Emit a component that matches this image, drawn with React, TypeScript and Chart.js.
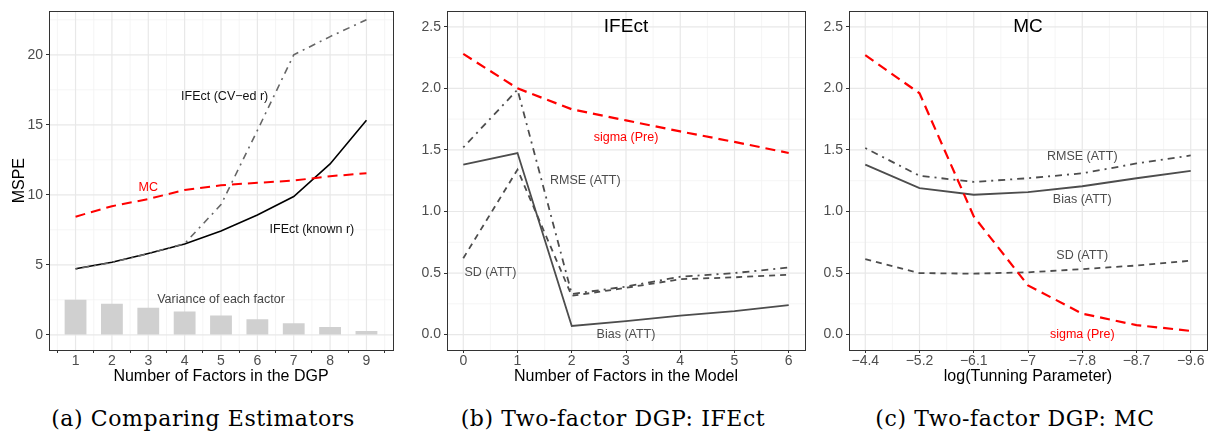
import React, { useEffect, useRef } from "react";
import { Chart, registerables } from "chart.js";
Chart.register(...registerables);

// ---------- Panel (a): Comparing Estimators ----------
const dgpFactors = [1, 2, 3, 4, 5, 6, 7, 8, 9];
const mspeKnownR = [4.72, 5.19, 5.81, 6.49, 7.42, 8.56, 9.88, 12.21, 15.33];
const mspeCvR = [4.7, 5.17, 5.8, 6.52, 9.3, 14.6, 20.0, 21.3, 22.5];
const mspeMC = [8.44, 9.19, 9.7, 10.35, 10.68, 10.86, 11.02, 11.33, 11.54];
const factorVariance = [2.5, 2.22, 1.94, 1.67, 1.39, 1.11, 0.83, 0.56, 0.28];
const aYTicks = [0, 5, 10, 15, 20];

// ---------- Panel (b): IFEct ----------
const modelFactors = [0, 1, 2, 3, 4, 5, 6];
const ifeSigmaPre = [2.28, 2.0, 1.83, 1.74, 1.65, 1.565, 1.475];
const ifeRmse = [1.52, 1.99, 0.33, 0.39, 0.47, 0.5, 0.545];
const ifeBias = [1.38, 1.475, 0.07, 0.11, 0.155, 0.19, 0.24];
const ifeSd = [0.62, 1.34, 0.315, 0.38, 0.45, 0.465, 0.487];
const bcYTicks = [0, 0.5, 1.0, 1.5, 2.0, 2.5];

// ---------- Panel (c): MC ----------
const lambdaIndex = [0, 1, 2, 3, 4, 5, 6];
const lambdaLabels = ["\u22124.4", "\u22125.2", "\u22126.1", "\u22127", "\u22127.8", "\u22128.7", "\u22129.6"];
const mcSigmaPre = [2.27, 1.96, 0.96, 0.4, 0.17, 0.077, 0.03];
const mcRmse = [1.515, 1.29, 1.24, 1.27, 1.31, 1.39, 1.455];
const mcBias = [1.38, 1.19, 1.136, 1.157, 1.205, 1.27, 1.33];
const mcSd = [0.614, 0.5, 0.495, 0.506, 0.532, 0.561, 0.6];

const captions = [
  "(a) Comparing Estimators",
  "(b) Two-factor DGP: IFEct",
  "(c) Two-factor DGP: MC",
];

const SANS = "'Liberation Sans', Arial, Helvetica, sans-serif";
const RED = "#ff0000";
const DARK = "#4d4d4d";

type Label = { text: string; x: number; y: number; color: string; size: number };

function minorBetween(major: number[], min: number, max: number): number[] {
  const out: number[] = [];
  const step = major[1] - major[0];
  const first = major[0] - step / 2;
  if (first >= min) out.push(first);
  for (let i = 0; i < major.length - 1; i++) out.push((major[i] + major[i + 1]) / 2);
  const last = major[major.length - 1] + step / 2;
  if (last <= max) out.push(last);
  return out;
}

function makeDecor(cfg: {
  xMajor: number[];
  yMajor: number[];
  xMin: number;
  xMax: number;
  yMin: number;
  yMax: number;
  labels: Label[];
}) {
  const xMinor = minorBetween(cfg.xMajor, cfg.xMin, cfg.xMax);
  const yMinor = minorBetween(cfg.yMajor, cfg.yMin, cfg.yMax);
  return {
    id: "decor",
    beforeDatasetsDraw(chart: any) {
      const { ctx, chartArea: a, scales } = chart;
      ctx.save();
      const vline = (v: number, color: string, w: number) => {
        const p = scales.x.getPixelForValue(v);
        ctx.strokeStyle = color;
        ctx.lineWidth = w;
        ctx.beginPath();
        ctx.moveTo(p, a.top);
        ctx.lineTo(p, a.bottom);
        ctx.stroke();
      };
      const hline = (v: number, color: string, w: number) => {
        const p = scales.y.getPixelForValue(v);
        ctx.strokeStyle = color;
        ctx.lineWidth = w;
        ctx.beginPath();
        ctx.moveTo(a.left, p);
        ctx.lineTo(a.right, p);
        ctx.stroke();
      };
      xMinor.forEach((v) => vline(v, "#f2f2f2", 0.8));
      yMinor.forEach((v) => hline(v, "#f2f2f2", 0.8));
      cfg.xMajor.forEach((v) => vline(v, "#e8e8e8", 1.2));
      cfg.yMajor.forEach((v) => hline(v, "#e8e8e8", 1.2));
      ctx.restore();
    },
    afterDatasetsDraw(chart: any) {
      const { ctx, chartArea: a, scales } = chart;
      ctx.save();
      ctx.textAlign = "center";
      ctx.textBaseline = "middle";
      cfg.labels.forEach((l) => {
        ctx.fillStyle = l.color;
        ctx.font = `${l.size}px ${SANS}`;
        ctx.fillText(l.text, scales.x.getPixelForValue(l.x), scales.y.getPixelForValue(l.y));
      });
      ctx.strokeStyle = "#333333";
      ctx.lineWidth = 1;
      ctx.strokeRect(Math.round(a.left) + 0.5, Math.round(a.top) + 0.5, Math.round(a.right - a.left), Math.round(a.bottom - a.top));
      ctx.restore();
    },
  };
}

function pts(xs: number[], ys: number[]) {
  return xs.map((x, i) => ({ x, y: ys[i] }));
}

function lineDs(label: string, xs: number[], ys: number[], color: string, width: number, dash: number[]) {
  return {
    type: "line" as const,
    label,
    data: pts(xs, ys),
    borderColor: color,
    borderWidth: width,
    borderDash: dash,
    pointRadius: 0,
    tension: 0,
    fill: false,
    order: 0,
    borderCapStyle: "butt" as const,
  };
}

const LONGDASH = [10, 6];
const DASHED = [6, 5];
const DOTDASH = [2, 5, 7, 5];

type PanelSpec = {
  left: number;
  width: number;
  height: number;
  plotLeft: number;
  plotRight: number;
  plotTop: number;
  plotBottom: number;
  datasets: any[];
  xMin: number;
  xMax: number;
  yMin: number;
  yMax: number;
  xTicks: number[];
  yTicks: number[];
  xFmt: (v: number) => string;
  yFmt: (v: number) => string;
  xTitle: string;
  yTitle?: string;
  labels: Label[];
};

function Panel({ spec }: { spec: PanelSpec }) {
  const ref = useRef<HTMLCanvasElement | null>(null);
  useEffect(() => {
    if (!ref.current) return;
    const s = spec;
    const yWidth = s.plotLeft - s.left;
    const xHeight = s.height - s.plotBottom;
    const padRight = s.left + s.width - s.plotRight;
    const tickFont = { family: SANS, size: 14 };
    const chart = new Chart(ref.current, {
      type: "line",
      data: { datasets: s.datasets },
      plugins: [
        makeDecor({
          xMajor: s.xTicks,
          yMajor: s.yTicks,
          xMin: s.xMin,
          xMax: s.xMax,
          yMin: s.yMin,
          yMax: s.yMax,
          labels: s.labels,
        }) as any,
      ],
      options: {
        animation: false,
        responsive: false,
        devicePixelRatio: 1,
        layout: { padding: { left: 0, right: padRight, top: s.plotTop, bottom: 0 } },
        plugins: { legend: { display: false }, tooltip: { enabled: false } },
        scales: {
          x: {
            type: "linear",
            min: s.xMin,
            max: s.xMax,
            offset: false,
            afterBuildTicks: (sc: any) => {
              sc.ticks = s.xTicks.map((v) => ({ value: v }));
            },
            afterFit: (sc: any) => {
              sc.height = xHeight;
            },
            grid: { drawOnChartArea: false, drawTicks: true, tickLength: 3, color: "#333333", tickColor: "#333333", tickWidth: 1 },
            border: { display: false },
            ticks: {
              color: DARK,
              font: tickFont,
              padding: 0,
              autoSkip: false,
              maxRotation: 0,
              callback: (v: any) => s.xFmt(Number(v)),
            },
            title: {
              display: true,
              text: s.xTitle,
              color: "#000000",
              font: { family: SANS, size: 16 },
              padding: { top: 0, bottom: 6 },
            },
          },
          y: {
            type: "linear",
            min: s.yMin,
            max: s.yMax,
            afterBuildTicks: (sc: any) => {
              sc.ticks = s.yTicks.map((v) => ({ value: v }));
            },
            afterFit: (sc: any) => {
              sc.width = yWidth;
            },
            grid: { drawOnChartArea: false, drawTicks: true, tickLength: 3, color: "#333333", tickColor: "#333333", tickWidth: 1 },
            border: { display: false },
            ticks: {
              color: DARK,
              font: tickFont,
              padding: 3,
              autoSkip: false,
              callback: (v: any) => s.yFmt(Number(v)),
            },
            title: {
              display: !!s.yTitle,
              text: s.yTitle || "",
              color: "#000000",
              font: { family: SANS, size: 16 },
              padding: { top: 10, bottom: 0 },
            },
          },
        },
      } as any,
    });
    return () => chart.destroy();
  }, [spec]);
  return (
    <canvas
      ref={ref}
      width={spec.width}
      height={spec.height}
      style={{ position: "absolute", left: spec.left, top: 0, width: spec.width, height: spec.height, display: "block" }}
    />
  );
}

const H = 392;

const panelA: PanelSpec = {
  left: 0,
  width: 400,
  height: H,
  plotLeft: 49,
  plotRight: 393,
  plotTop: 4,
  plotBottom: 350,
  datasets: [
    {
      type: "bar",
      label: "Variance of each factor",
      data: pts(dgpFactors, factorVariance),
      backgroundColor: "#d0d0d0",
      borderWidth: 0,
      barPercentage: 0.6,
      categoryPercentage: 1,
      order: 10,
    },
    lineDs("IFEct (CV-ed r)", dgpFactors, mspeCvR, "#666666", 1.6, DOTDASH),
    lineDs("MC", dgpFactors, mspeMC, RED, 2, LONGDASH),
    lineDs("IFEct (known r)", dgpFactors, mspeKnownR, "#000000", 1.6, []),
  ],
  xMin: 0.27,
  xMax: 9.73,
  yMin: -1.08,
  yMax: 23.1,
  xTicks: dgpFactors,
  yTicks: aYTicks,
  xFmt: (v) => String(v),
  yFmt: (v) => String(v),
  xTitle: "Number of Factors in the DGP",
  yTitle: "MSPE",
  labels: [
    { text: "IFEct (CV\u2212ed r)", x: 5.1, y: 17, color: "#111111", size: 12.5 },
    { text: "MC", x: 3, y: 10.5, color: RED, size: 12.5 },
    { text: "IFEct (known r)", x: 7.5, y: 7.5, color: "#111111", size: 12.5 },
    { text: "Variance of each factor", x: 5, y: 2.5, color: "#444444", size: 12.5 },
  ],
};

const panelB: PanelSpec = {
  left: 403,
  width: 406,
  height: H,
  plotLeft: 447,
  plotRight: 805,
  plotTop: 4,
  plotBottom: 350,
  datasets: [
    lineDs("sigma (Pre)", modelFactors, ifeSigmaPre, RED, 2.2, LONGDASH),
    lineDs("RMSE (ATT)", modelFactors, ifeRmse, DARK, 1.8, DOTDASH),
    lineDs("SD (ATT)", modelFactors, ifeSd, DARK, 1.8, DASHED),
    lineDs("Bias (ATT)", modelFactors, ifeBias, DARK, 1.8, []),
  ],
  xMin: -0.3,
  xMax: 6.3,
  yMin: -0.125,
  yMax: 2.625,
  xTicks: modelFactors,
  yTicks: bcYTicks,
  xFmt: (v) => String(v),
  yFmt: (v) => v.toFixed(1),
  xTitle: "Number of Factors in the Model",
  labels: [
    { text: "IFEct", x: 3, y: 2.5, color: "#000000", size: 19 },
    { text: "sigma (Pre)", x: 3, y: 1.6, color: RED, size: 12.5 },
    { text: "RMSE (ATT)", x: 2.25, y: 1.25, color: DARK, size: 12.5 },
    { text: "SD (ATT)", x: 0.5, y: 0.5, color: DARK, size: 12.5 },
    { text: "Bias (ATT)", x: 3, y: 0, color: DARK, size: 12.5 },
  ],
};

const panelC: PanelSpec = {
  left: 810,
  width: 401,
  height: H,
  plotLeft: 849,
  plotRight: 1207,
  plotTop: 4,
  plotBottom: 350,
  datasets: [
    lineDs("sigma (Pre)", lambdaIndex, mcSigmaPre, RED, 2.2, LONGDASH),
    lineDs("RMSE (ATT)", lambdaIndex, mcRmse, DARK, 1.8, DOTDASH),
    lineDs("SD (ATT)", lambdaIndex, mcSd, DARK, 1.8, DASHED),
    lineDs("Bias (ATT)", lambdaIndex, mcBias, DARK, 1.8, []),
  ],
  xMin: -0.3,
  xMax: 6.3,
  yMin: -0.125,
  yMax: 2.625,
  xTicks: lambdaIndex,
  yTicks: bcYTicks,
  xFmt: (v) => lambdaLabels[Math.round(v)] ?? "",
  yFmt: (v) => v.toFixed(1),
  xTitle: "log(Tunning Parameter)",
  labels: [
    { text: "MC", x: 3, y: 2.5, color: "#000000", size: 19 },
    { text: "RMSE (ATT)", x: 4, y: 1.45, color: DARK, size: 12.5 },
    { text: "Bias (ATT)", x: 4, y: 1.1, color: DARK, size: 12.5 },
    { text: "SD (ATT)", x: 4, y: 0.64, color: DARK, size: 12.5 },
    { text: "sigma (Pre)", x: 4, y: 0, color: RED, size: 12.5 },
  ],
};

const captionCenters = [203, 613, 1015];

export default function App() {
  return (
    <div style={{ position: "absolute", left: 0, top: 0, width: 1211, height: 438, background: "#ffffff", overflow: "hidden" }}>
      <Panel spec={panelA} />
      <Panel spec={panelB} />
      <Panel spec={panelC} />
      {captions.map((c, i) => (
        <div
          key={c}
          style={{
            position: "absolute",
            left: captionCenters[i] - 200,
            width: 400,
            top: 408,
            textAlign: "center",
            fontFamily: "'DejaVu Serif', 'Liberation Serif', serif",
            fontSize: 22,
            letterSpacing: "0.6px",
            lineHeight: "22px",
            color: "#000000",
            whiteSpace: "nowrap",
          }}
        >
          {c}
        </div>
      ))}
    </div>
  );
}
